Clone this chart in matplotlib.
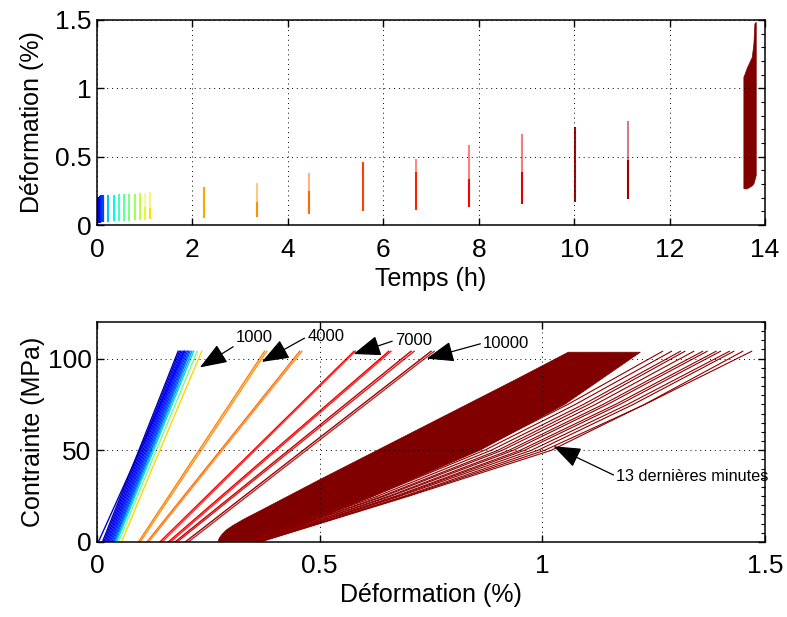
import matplotlib
matplotlib.use("Agg")
import matplotlib.pyplot as plt
from matplotlib.ticker import MultipleLocator

plt.rcParams['font.family'] = ['Liberation Sans', 'DejaVu Sans']

# ---------------- top panel data: strain range vs time ----------------
blue_t = [0.00, 0.015, 0.03, 0.045, 0.06, 0.075, 0.09, 0.105, 0.12]
blue_lo = [0.017, 0.017, 0.018, 0.018, 0.018, 0.019, 0.019, 0.020, 0.020]
blue_hi = [0.205, 0.206, 0.207, 0.208, 0.210, 0.214, 0.217, 0.219, 0.220]
blue_col = ['#00008f', '#0000a8', '#0000c0', '#0000d8', '#0000f0', '#0010ff',
            '#0020ff', '#0030ff', '#0040ff']

line_t = [0.24, 0.36, 0.47, 0.57, 0.68, 0.79, 0.90, 1.01, 1.12,
          2.24, 3.35, 4.44, 5.57, 6.69, 7.80, 8.91, 10.02, 11.13]
line_lo = [0.024, 0.026, 0.028, 0.030, 0.032, 0.034, 0.036, 0.038, 0.042,
           0.053, 0.060, 0.080, 0.100, 0.112, 0.130, 0.154, 0.170, 0.188]
line_solid = [0.220, 0.220, 0.225, 0.225, 0.228, 0.230, 0.232, 0.130, 0.124,
              0.276, 0.170, 0.250, 0.461, 0.390, 0.337, 0.390, 0.715, 0.475]
line_hi = [0.220, 0.220, 0.225, 0.225, 0.228, 0.230, 0.232, 0.236, 0.240,
           0.276, 0.305, 0.380, 0.461, 0.483, 0.585, 0.666, 0.715, 0.760]
line_col = ['#00c8ff', '#10f0f0', '#40ffc0', '#60ffa0', '#80ff80', '#a0ff60',
            '#c0ff40', '#e0ff20', '#ffe000',
            '#ffa500', '#ff9000', '#ff6a00', '#ff4000', '#ff2000', '#ff0000',
            '#e00000', '#b00000', '#a00000']

end_t = [13.546, 13.561, 13.616, 13.722, 13.756, 13.777, 13.805]
end_hi = [1.085, 1.097, 1.150, 1.231, 1.329, 1.475, 1.487]
end_lo = [0.270, 0.268, 0.268, 0.290, 0.305, 0.330, 0.366]

# ---------------- bottom panel data: stress-strain cycles ----------------
sig3 = [0, 50, 104]  # stress levels (MPa) where strains are read
cyc_eps = [
    [0.003, 0.096, 0.196],
    [0.012, 0.094, 0.182],
    [0.015, 0.097, 0.185],
    [0.018, 0.100, 0.188],
    [0.021, 0.103, 0.191],
    [0.024, 0.106, 0.194],
    [0.027, 0.109, 0.197],
    [0.030, 0.112, 0.200],
    [0.033, 0.115, 0.203],
    [0.036, 0.118, 0.206],
    [0.038, 0.121, 0.209],
    [0.041, 0.124, 0.213],
    [0.044, 0.127, 0.217],
    [0.048, 0.133, 0.225],
    [0.055, 0.141, 0.235],
    [0.093, 0.229, 0.376],
    [0.097, 0.234, 0.381],
    [0.112, 0.277, 0.455],
    [0.116, 0.281, 0.460],
    [0.141, 0.351, 0.577],
    [0.146, 0.355, 0.580],
    [0.160, 0.398, 0.655],
    [0.165, 0.403, 0.660],
    [0.175, 0.430, 0.705],
    [0.180, 0.436, 0.712],
    [0.198, 0.463, 0.750],
    [0.205, 0.470, 0.757],
]
cyc_col = ['#0000d0', '#0000b0', '#0000c8', '#0000e0', '#0000ff', '#0008ff',
           '#0010ff', '#0020ff', '#0030ff', '#0048ff', '#0060ff',
           '#00a0ff', '#00d8ff', '#70ff88', '#ffd700',
           '#ff8000', '#ff9020', '#ff7000', '#ff8830',
           '#ff0000', '#ff3030', '#e80000', '#ff2020', '#c00000', '#d82020',
           '#a00000', '#b03030']

# dense band (last 13 minutes)
band_left_eps = [0.272, 0.274, 0.280, 0.290, 0.305, 0.330, 0.370, 0.500,
                 0.942, 1.058, 1.220]
band_left_sig = [0.0, 2.0, 4.0, 6.5, 9.0, 12.5, 17.5, 34.0,
                 88.8, 103.5, 103.5]
band_low_eps = [1.220, 1.050, 0.860, 0.620, 0.365]
band_low_sig = [103.5, 75.0, 50.0, 25.0, 0.0]

sig5 = [0, 25, 50, 75, 104]
band_lines = [
    [0.335, 0.61, 0.855, 1.057, 1.27],
    [0.338, 0.62, 0.870, 1.074, 1.29],
    [0.341, 0.63, 0.885, 1.092, 1.31],
    [0.344, 0.64, 0.900, 1.104, 1.32],
    [0.347, 0.645, 0.910, 1.119, 1.34],
    [0.350, 0.655, 0.925, 1.136, 1.36],
    [0.353, 0.66, 0.935, 1.146, 1.37],
    [0.356, 0.67, 0.950, 1.164, 1.39],
    [0.358, 0.675, 0.960, 1.174, 1.40],
    [0.360, 0.68, 0.975, 1.191, 1.42],
    [0.362, 0.69, 0.990, 1.204, 1.43],
    [0.364, 0.695, 1.005, 1.230, 1.47],
    [0.366, 0.70, 1.020, 1.229, 1.45],
]

ann_text = ['1000', '4000', '7000', '10000', '13 dernières minutes']
ann_tip = [(0.231, 95.2), (0.370, 98.2), (0.576, 102.5), (0.740, 100.0), (1.025, 52.2)]
ann_pos = [(0.312, 111.5), (0.472, 112.0), (0.669, 110.0), (0.867, 108.5), (1.166, 35.8)]

# ---------------- figure ----------------
fig = plt.figure(figsize=(7.87, 6.17), dpi=100)
ax1 = fig.add_axes([0.1233, 0.6353, 0.8488, 0.3323])
ax2 = fig.add_axes([0.1233, 0.1216, 0.8488, 0.3566])

DR = '#800000'
TICK_FS = 19
LAB_FS = 18

for t, lo, hi, c in zip(blue_t, blue_lo, blue_hi, blue_col):
    ax1.plot([t, t], [lo, hi], color=c, lw=1.6, solid_capstyle='butt')
for t, lo, so, hi, c in zip(line_t, line_lo, line_solid, line_hi, line_col):
    ax1.plot([t, t], [lo, so], color=c, lw=1.5, solid_capstyle='butt')
    if hi > so:
        ax1.plot([t, t], [so, hi], color=c, lw=1.5, alpha=0.5, solid_capstyle='butt')
ax1.fill_between(end_t, end_lo, end_hi, color=DR, lw=0.5, edgecolor=DR)

ax1.set_xlim(0, 14)
ax1.set_ylim(0, 1.5)
ax1.set_xticks([0, 2, 4, 6, 8, 10, 12, 14])
ax1.set_yticks([0, 0.5, 1, 1.5])
ax1.set_yticklabels(['0', '0.5', '1', '1.5'])
ax1.set_xlabel('Temps (h)', fontsize=LAB_FS, labelpad=4)
ax1.set_ylabel('Déformation (%)', fontsize=LAB_FS, labelpad=8)

for eps, c in zip(cyc_eps, cyc_col):
    ax2.plot(eps, sig3, color=c, lw=1.0)
ax2.fill(band_left_eps + band_low_eps, band_left_sig + band_low_sig,
         color=DR, lw=0.5, edgecolor=DR)
for eps in band_lines:
    ax2.plot(eps, sig5, color='#8b0000', lw=0.8)

ax2.set_xlim(0, 1.5)
ax2.set_ylim(0, 120)
ax2.set_xticks([0, 0.5, 1, 1.5])
ax2.set_xticklabels(['0', '0.5', '1', '1.5'])
ax2.set_yticks([0, 50, 100])
ax2.set_xlabel('Déformation (%)', fontsize=LAB_FS, labelpad=3)
ax2.set_ylabel('Contrainte (MPa)', fontsize=LAB_FS, labelpad=2)

for i, (txt, tip, pos) in enumerate(zip(ann_text, ann_tip, ann_pos)):
    small = i == 4
    ax2.annotate(txt, xy=tip, xytext=pos, ha='left', va='center',
                 fontsize=11.7 if small else 12,
                 arrowprops=dict(arrowstyle='-|>,head_length=0.85,head_width=0.32',
                                 color='black', lw=0.9, shrinkA=0, shrinkB=0,
                                 relpos=(0, 0.5) if i else (0, 0.0),
                                 mutation_scale=20))

for ax in (ax1, ax2):
    ax.grid(True, color='black', linestyle=(0, (1, 4)), lw=0.7)
    ax.tick_params(direction='in', top=True, right=True, length=5, width=1,
                   labelsize=TICK_FS)
    ax.tick_params(axis='x', pad=9)
    ax.tick_params(axis='y', pad=4)
    for s in ax.spines.values():
        s.set_linewidth(1.1)
    ax.set_axisbelow(False)

ax1.yaxis.set_minor_locator(MultipleLocator(0.1))
ax2.yaxis.set_minor_locator(MultipleLocator(5))
for ax in (ax1, ax2):
    ax.tick_params(which='minor', direction='in', left=False, right=True,
                   length=3, width=0.8)

fig.savefig('out.png', dpi=100)
